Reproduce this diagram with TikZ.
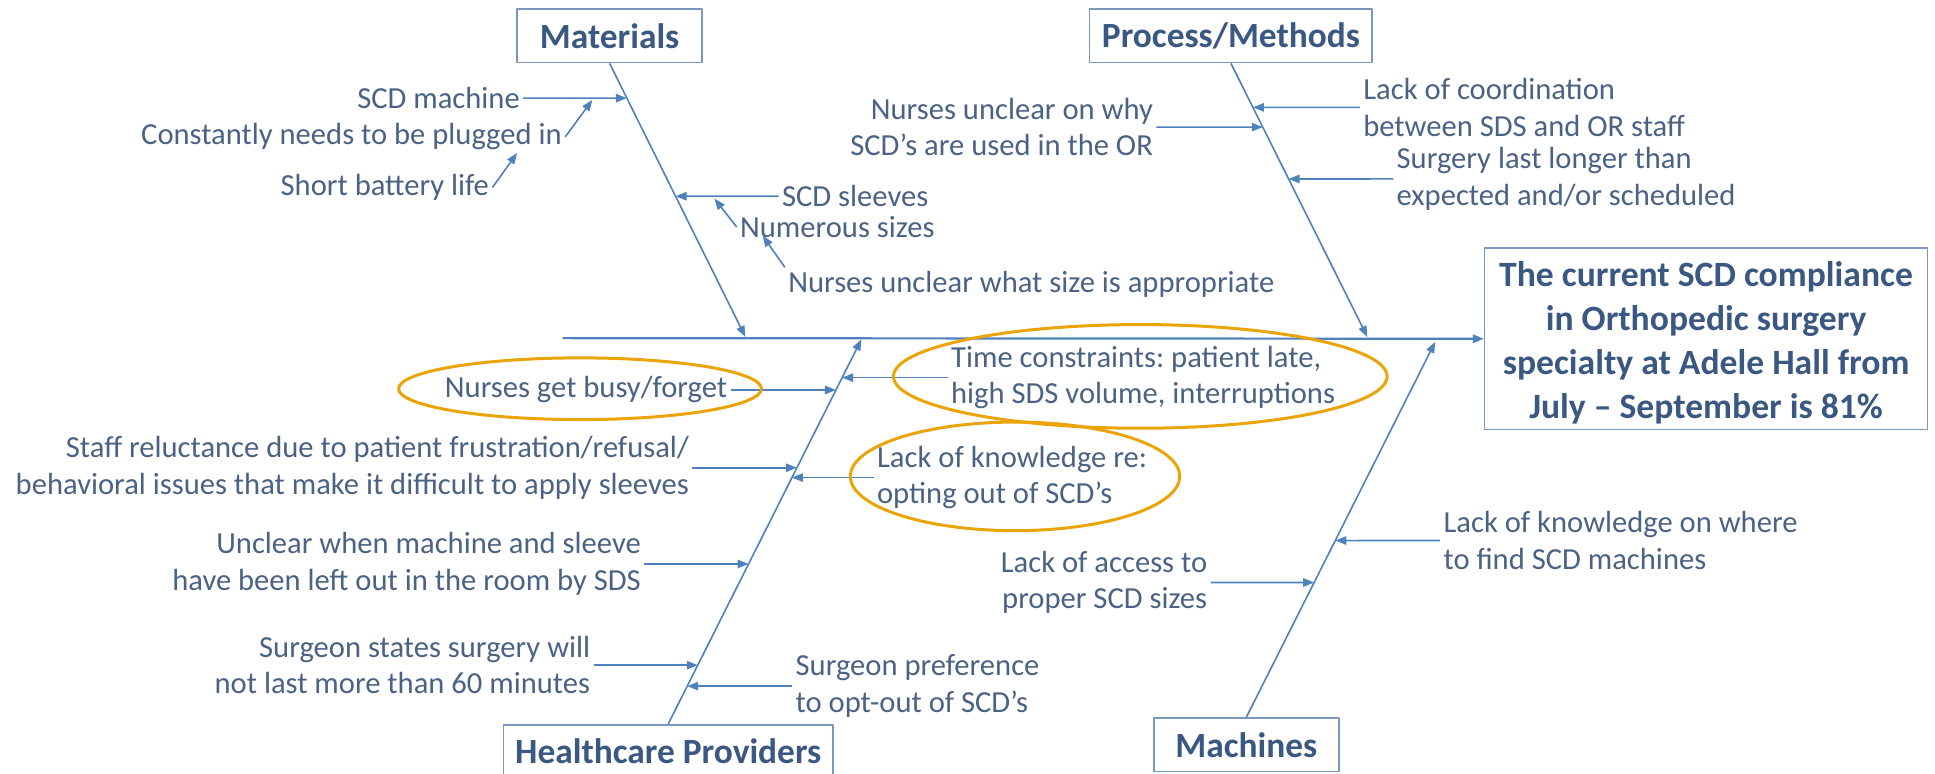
\documentclass[tikz,border=0pt]{standalone}
\usepackage{fontspec}
\setmainfont{Carlito}
\usetikzlibrary{arrows.meta}
\frenchspacing
\definecolor{duong}{RGB}{79,129,189}
\definecolor{vien}{RGB}{122,151,192}
\definecolor{chu}{RGB}{74,98,132}
\definecolor{chuDam}{RGB}{58,88,130}
\definecolor{cam}{RGB}{234,164,8}
\def\dv{0.617pt} % don vi ve
\tikzset{
  hop/.style={draw=vien, line width=0.8pt, text=chuDam, font=\fontsize{17.7}{21}\selectfont\bfseries, minimum height=43.5*\dv, inner sep=0pt},
  nhan/.style={text=chu, font=\fontsize{15.3}{18.2}\selectfont, inner sep=1.5pt},
  xuong/.style={draw=duong, line width=0.8pt, ->},
  mui/.style={draw=duong, line width=0.8pt, ->},
  vong/.style={draw=cam, line width=1.5pt}
}
\begin{document}
\begin{tikzpicture}[x=\dv, y=-\dv, line join=round, >={Triangle[length=5.5pt,width=4.2pt]}]
	\useasboundingbox (0,0) rectangle (1568,627);
	% cac hop nhom
	\node[hop, minimum width=150*\dv] (mat) at (494,29) {Materials};
	\node[hop, minimum width=229*\dv] (pro) at (997.5,29) {Process/Methods};
	\node[hop, minimum width=267*\dv] (hcp) at (541.5,609) {Healthcare Providers};
	\node[hop, minimum width=150*\dv] (may) at (1010,603.5) {Machines};
	\node[hop, minimum width=359*\dv, minimum height=147*\dv, align=center, font=\fontsize{17.8}{22}\selectfont\bfseries] (kq) at (1382.5,274.5)
		{\rule{0pt}{17pt}The current SCD compliance\\in Orthopedic surgery\\specialty at Adele Hall from\\July -- September is 81\%};
	% truc chinh va xuong ca
	\coordinate (dau) at (456,274);
	\draw[draw=duong, line width=1.1pt, ->] (dau) -- (kq.west);
	\coordinate (xm1) at (mat.south); \coordinate (xm2) at (604,273);
	\coordinate (xp1) at (pro.south); \coordinate (xp2) at (1108,273);
	\coordinate (xh1) at (hcp.north); \coordinate (xh2) at (698,275);
	\coordinate (xk1) at (may.north); \coordinate (xk2) at (1163,277);
	\foreach \b in {xm,xp,xh,xk} \draw[xuong] (\b1) -- (\b2);
	% Materials
	\node[nhan, anchor=east] (m1) at (424,79.5) {SCD machine};
	\node[nhan, anchor=east] (m2) at (458,111) {Constantly needs to be plugged in};
	\node[nhan, anchor=east] (m3) at (399,152) {Short battery life};
	\node[nhan, anchor=west] (m4) at (631,159) {SCD sleeves};
	\node[nhan, anchor=west] (m5) at (597,184) {Numerous sizes};
	\node[nhan, anchor=west] (m6) at (636,230) {Nurses unclear what size is appropriate};
	% Process/Methods
	\node[nhan, anchor=east, align=right] (p1) at (937,103) {Nurses unclear on why\\SCD’s are used in the OR};
	\node[nhan, anchor=west, align=left] (p2) at (1102,87) {Lack of coordination\\between SDS and OR staff};
	\node[nhan, anchor=west, align=left] (p3) at (1129,145) {Surgery last longer than\\expected and/or scheduled};
	% Healthcare Providers
	\node[nhan, anchor=east] (h1) at (592,316) {Nurses get busy/forget};
	\node[nhan, anchor=west, align=left] (h2) at (768,306) {Time constraints: patient late,\\high SDS volume, interruptions};
	\node[nhan, anchor=east, align=right] (h3) at (561,379) {Staff reluctance due to patient frustration/refusal/\\behavioral issues that make it difficult to apply sleeves};
	\node[nhan, anchor=west, align=left] (h4) at (708,387) {Lack of knowledge re:\\opting out of SCD’s};
	\node[nhan, anchor=east, align=right] (h5) at (522,457) {Unclear when machine and sleeve\\have been left out in the room by SDS};
	\node[nhan, anchor=east, align=right] (h6) at (481,539) {Surgeon states surgery will\\not last more than 60 minutes};
	\node[nhan, anchor=west, align=left] (h7) at (642,556) {Surgeon preference\\to opt-out of SCD’s};
	% Machines
	\node[nhan, anchor=west, align=left] (k1) at (1167,438) {Lack of knowledge on where\\to find SCD machines};
	\node[nhan, anchor=east, align=right] (k2) at (981,472) {Lack of access to\\proper SCD sizes};
	% mui ten ngang vao xuong
	\foreach \n/\a/\b in {m1/east/xm, m4/west/xm, p1/east/xp, p2/west/xp, p3/west/xp,
		h1/east/xh, h2/west/xh, h3/east/xh, h4/west/xh, h5/east/xh, h6/east/xh, h7/west/xh,
		k1/west/xk, k2/east/xk}
		\draw[mui] (\n.\a) -- (intersection cs: first line={(\b1)--(\b2)}, second line={(\n.\a)--([xshift=1pt]\n.\a)});
	% mui ten phu
	\coordinate (c2) at (480,81);
	\coordinate (c3) at (419,124);
	\coordinate (c5) at (579,161);
	\coordinate (c6) at (618,191);
	\draw[mui] (m2.east) -- (c2);
	\draw[mui] (m3.east) -- (c3);
	\draw[mui] (m5.west) -- (c5);
	\draw[mui] (m6.north west) -- (c6);
	% khoanh nguyen nhan chinh
	\draw[vong] (470,315) ellipse (147 and 25);
	\draw[vong] (924,305) ellipse (200 and 42);
	\draw[vong] (822.5,386) ellipse (133.5 and 44);
\end{tikzpicture}
\end{document}
